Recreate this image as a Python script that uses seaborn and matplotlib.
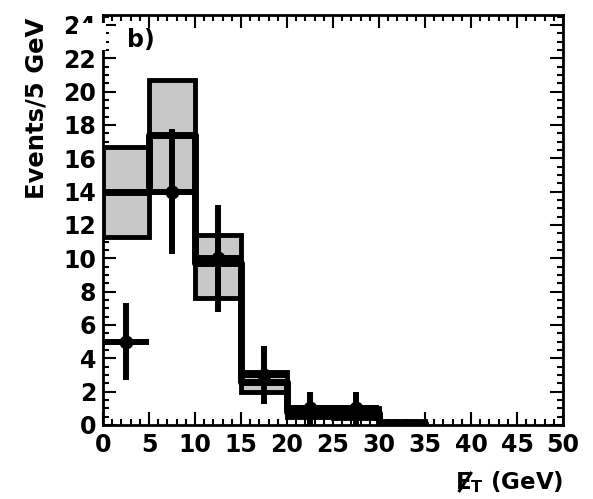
import numpy as np
import matplotlib
matplotlib.use("Agg")
import matplotlib.pyplot as plt
import seaborn as sns
from matplotlib.ticker import MultipleLocator
from matplotlib.patches import Rectangle
from matplotlib.lines import Line2D

# ---- data ----
bin_edges = [0, 5, 10, 15, 20, 25, 30, 35]
pred_central = [14.0, 17.4, 9.7, 2.6, 0.8, 0.7, 0.15]
pred_low = [11.3, 14.0, 7.6, 2.0, 0.5, 0.4, 0.05]
pred_high = [16.7, 20.7, 11.4, 3.2, 1.1, 1.0, 0.25]
data_x = [2.5, 7.5, 12.5, 17.5, 22.5, 27.5]
data_y = [5, 14, 10, 3, 1, 1]
data_err = [2.3, 3.75, 3.2, 1.75, 1.0, 1.0]
x_ticks = [0, 5, 10, 15, 20, 25, 30, 35, 40, 45, 50]
y_ticks = [0, 2, 4, 6, 8, 10, 12, 14, 16, 18, 20, 22, 24]

sns.set_theme(style="ticks")
plt.rcParams['font.family'] = ['DejaVu Sans']
plt.rcParams['font.weight'] = 'bold'
plt.rcParams['mathtext.fontset'] = 'dejavusans'
plt.rcParams['mathtext.default'] = 'bf'

W, H = 593, 499
fig = plt.figure(figsize=(W / 100, H / 100), dpi=100)
fig.patch.set_facecolor('white')
ax = fig.add_axes([103 / W, 1 - 425 / H, 460 / W, 410 / H])
ax.set_facecolor('white')

centers = [(a + b) / 2 for a, b in zip(bin_edges[:-1], bin_edges[1:])]
widths = [b - a for a, b in zip(bin_edges[:-1], bin_edges[1:])]

# uncertainty boxes
ax.bar(centers, [h - l for h, l in zip(pred_high, pred_low)], bottom=pred_low,
       width=widths, color='#c8c8c8', edgecolor='black', linewidth=3.5, zorder=2)

# central prediction step line
sns.histplot(x=centers, weights=pred_central, bins=bin_edges, element='step',
             fill=False, color='black', linewidth=5, ax=ax, zorder=3)

# data points
ax.errorbar(data_x, data_y, yerr=data_err, xerr=2.5, fmt='o', color='black',
            markersize=9, elinewidth=4.3, capsize=0, zorder=4)

ax.set_xlim(0, 50)
ax.set_ylim(0, 24.6)
ax.set_xticks(x_ticks)
ax.set_yticks(y_ticks)
ax.set_xticklabels([str(v) for v in x_ticks])
ax.set_yticklabels([str(v) for v in y_ticks])
ax.xaxis.set_minor_locator(MultipleLocator(1))
ax.yaxis.set_minor_locator(MultipleLocator(0.5))
ax.tick_params(which='both', direction='in', top=True, right=True,
               color='black', width=1.5, labelsize=17, labelcolor='black')
ax.tick_params(which='major', length=9.5, pad=5)
ax.tick_params(which='minor', length=4.5)
ax.tick_params(axis='x', which='major', pad=6)
for lab in ax.get_xticklabels() + ax.get_yticklabels():
    lab.set_fontweight('bold')
for s in ax.spines.values():
    s.set_linewidth(2)
    s.set_color('black')
    s.set_zorder(5)
ax.set_xlabel('')
ax.set_ylabel('')

fig.text(37 / W, 1 - 108 / H, 'Events/5 GeV', rotation=90, ha='center',
         va='center', fontsize=17.5, fontweight='bold', color='black')
xl = fig.text(563 / W, 1 - 482 / H, r'$\mathbf{E}_{\mathbf{T}}$ (GeV)',
              ha='right', va='center', fontsize=16.5, fontweight='bold',
              color='black')
ax.text(2.6, 23.1, 'b)', ha='left', va='center', fontsize=17,
        fontweight='bold', color='black')

# slash through the E of the missing-ET label (drawn as a line)
fig.canvas.draw()
bb = xl.get_window_extent()
x0 = bb.x0
fig.add_artist(Line2D([(x0 + 4) / W, (x0 + 17) / W],
                      [1 - 492 / H, 1 - 472 / H],
                      transform=fig.transFigure, color='black',
                      linewidth=2.2, solid_capstyle='butt'))

fig.add_artist(Rectangle((77 / W, 1 - 50 / H), 29 / W, 27 / H,
                         transform=fig.transFigure, facecolor='white',
                         edgecolor='none', zorder=10))

fig.savefig('out.png', dpi=100, facecolor='white')
